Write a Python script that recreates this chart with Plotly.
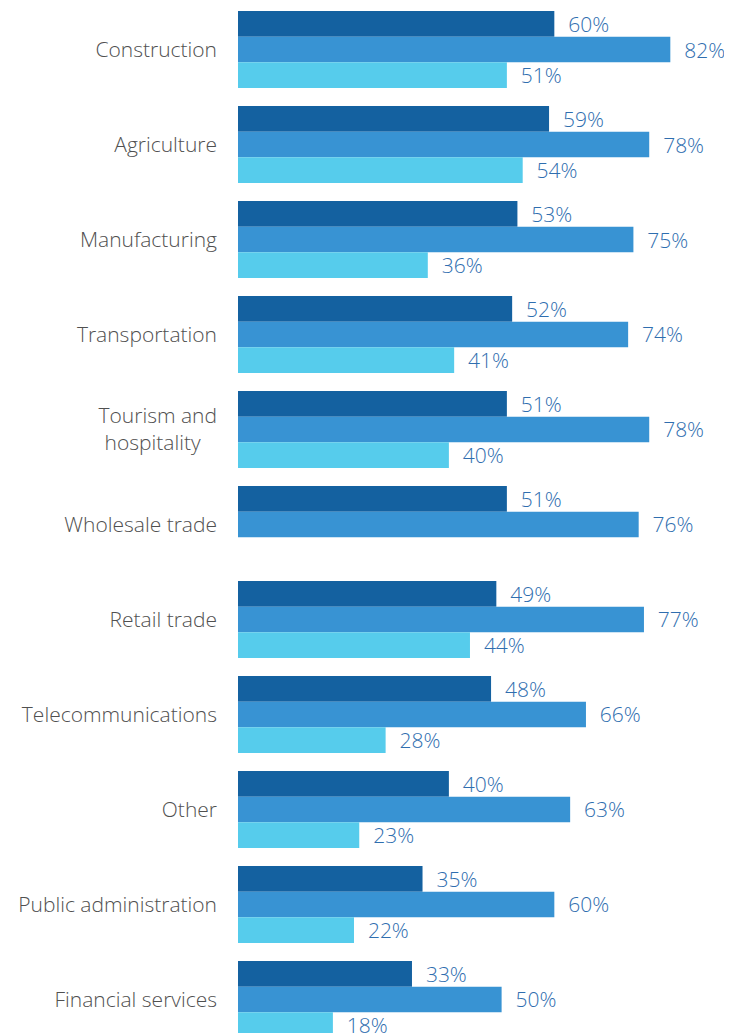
import plotly.graph_objects as go

# industries, top to bottom
categories = [
    "Construction",
    "Agriculture",
    "Manufacturing",
    "Transportation",
    "Tourism and<br>hospitality\u00a0\u00a0\u00a0",
    "Wholesale trade",
    "Retail trade",
    "Telecommunications",
    "Other",
    "Public administration",
    "Financial services",
]

# share per industry, three series (no third value for wholesale trade)
series_1 = [60, 59, 53, 52, 51, 51, 49, 48, 40, 35, 33]
series_2 = [82, 78, 75, 74, 78, 76, 77, 66, 63, 60, 50]
series_3 = [51, 54, 36, 41, 40, None, 44, 28, 23, 22, 18]

colors = ["#1461A0", "#3893D3", "#56CCEC"]
label_color = "#2F6EAF"
font_name = "Open Sans"

fig = go.Figure()
for vals, col in zip([series_1, series_2, series_3], colors):
    fig.add_trace(go.Bar(
        x=vals,
        y=categories,
        orientation="h",
        marker=dict(color=col, line=dict(width=0)),
        texttemplate="\u00a0\u00a0%{x}%",
        textposition="outside",
        constraintext="none",
        textfont=dict(family=font_name, size=21, color=label_color, weight=300),
        cliponaxis=False,
        hoverinfo="skip",
    ))

# the page body adds an 8px margin, so the figure is 8px smaller each way
fig.update_layout(
    barmode="group",
    bargap=0.19,
    bargroupgap=0,
    showlegend=False,
    width=724,
    height=1025,
    margin=dict(l=230, r=0, t=0, b=0),
    paper_bgcolor="white",
    plot_bgcolor="white",
    font=dict(family=font_name, color="#595959"),
)
fig.update_xaxes(range=[0, 93.7], visible=False, showgrid=False, zeroline=False)
fig.update_yaxes(
    type="category",
    range=[10.353, -0.437],
    showgrid=False,
    zeroline=False,
    showline=False,
    ticks="",
    ticklabelstandoff=20,
    tickfont=dict(family=font_name, size=21, color="#505050", weight=300),
)

fig.write_html("out.html")
